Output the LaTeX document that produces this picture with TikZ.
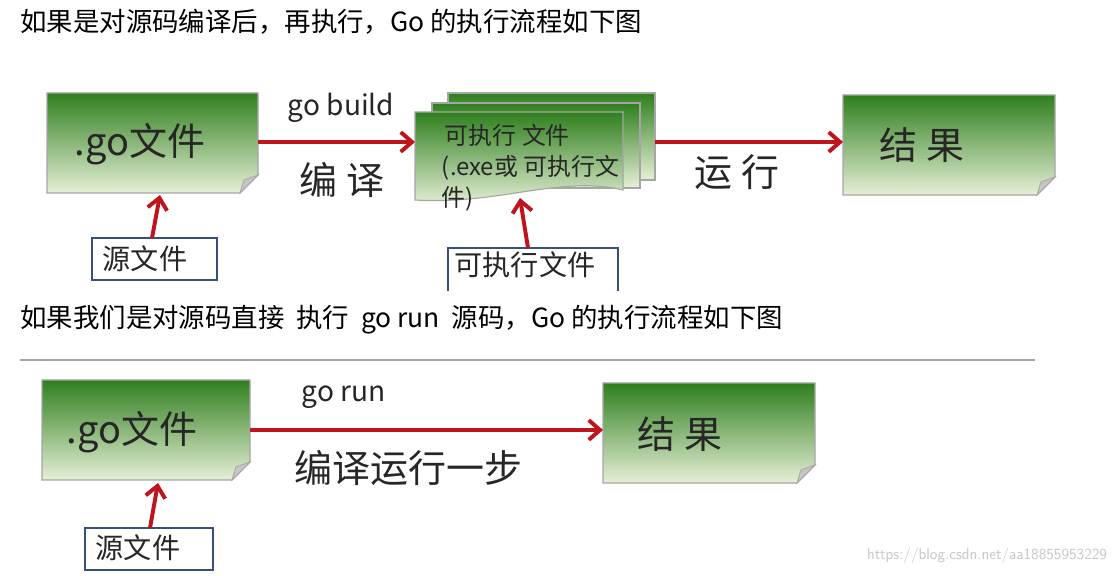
\documentclass[tikz,border=0pt]{standalone}
\usepackage{fontspec}
\setmainfont{Liberation Serif}
\newfontfamily\cjk{Noto Sans CJK SC}
\usetikzlibrary{arrows.meta}
\definecolor{gdark}{HTML}{2F7F1E}
\definecolor{glight}{HTML}{E6EFD6}
\definecolor{ared}{HTML}{C0141C}
\definecolor{bblue}{HTML}{3A4F7A}
\tikzset{
  gbox/.style={top color=gdark,bottom color=glight,draw=gray!70,line width=0.8pt},
  fold/.style={fill=gray!45,draw=gray!70,line width=0.6pt},
  rarrow/.style={draw=ared,line width=2.8pt,-{Straight Barb[length=8pt,width=14pt]}},
  lbox/.style={draw=bblue,line width=1pt,fill=white},
  big/.style={font=\cjk\fontsize{27}{27}\selectfont,text=black!85},
  mid/.style={font=\cjk\fontsize{20}{20}\selectfont,text=black!85},
  small/.style={font=\cjk\fontsize{17}{17}\selectfont,text=black!85},
  para/.style={font=\cjk\fontsize{18.8}{19}\selectfont,anchor=west,inner sep=0pt},
}
\begin{document}
\begin{tikzpicture}[x=0.025cm,y=-0.025cm]
\useasboundingbox[fill=white] (0,0) rectangle (1120,576);
\node[para] (t1) at (20,22) {如果是对源码编译后，再执行，Go 的执行流程如下图};
\node[para] (t2) at (20,320) {如果我们是对源码直接\ \ 执行\ \ go run\ \ 源码，Go 的执行流程如下图};
\draw[gray!70,line width=1pt] (20,360) -- (1035,360);
% ---- top diagram
\path[gbox] (47,93) -- (258,93) -- (258,175) -- (240,193) -- (47,193) -- cycle;
\path[fold] (258,175) -- (244,180) -- (240,193) -- cycle;
\node[big,anchor=center] (go1) at (140,144) {.go文件};
\coordinate (go1e) at (258,142);
\coordinate (go1s) at (160,195);
\path[gbox] (448,93) -- (655,93) -- (655,180) -- (448,180) -- cycle;
\path[gbox] (432,103) -- (640,103) -- (640,188) -- (432,188) -- cycle;
\path[gbox] (415,112) -- (623,112) -- (623,190) .. controls (560,175) and (500,205) .. (415,200) -- cycle;
\node[small,anchor=west] (exe1) at (440,135) {可执行 文件};
\node[small,anchor=west] (exe2) at (437,168) {(.exe或 可执行文};
\node[small,anchor=west] (exe3) at (437,199) {件)};
\coordinate (stw) at (415,142);
\coordinate (ste) at (655,142);
\coordinate (sts) at (520,198);
\path[gbox] (843,95) -- (1055,95) -- (1055,177) -- (1037,195) -- (843,195) -- cycle;
\path[fold] (1055,177) -- (1041,182) -- (1037,195) -- cycle;
\node[big,anchor=center] (res1) at (922,145) {结\ 果};
\coordinate (res1w) at (843,142);
\draw[rarrow] (go1e) -- (stw);
\draw[rarrow] (ste) -- (res1w);
\node[mid,anchor=west] (gb) at (283,108) {go build};
\node[big,anchor=west] (by) at (295,180) {编\ 译};
\node[big,anchor=west] (yx) at (690,172) {运\ 行};
\path[lbox] (92,238) rectangle (217,280);
\node[mid] (src1) at (145,259) {源文件};
\coordinate (src1n) at (152,238);
\draw[rarrow] (src1n) -- (go1s);
\draw[bblue,line width=1pt] (448,291) -- (448,248) -- (618,248) -- (618,291);
\node[mid] (exeb) at (525,265) {可执行文件};
\coordinate (exebn) at (528,248);
\draw[rarrow] (exebn) -- (sts);
% ---- bottom diagram
\path[gbox] (42,380) -- (250,380) -- (250,462) -- (232,480) -- (42,480) -- cycle;
\path[fold] (250,462) -- (236,467) -- (232,480) -- cycle;
\node[big] (go2) at (132,432) {.go文件};
\coordinate (go2e) at (250,430);
\coordinate (go2s) at (158,483);
\path[gbox] (603,383) -- (815,383) -- (815,465) -- (797,483) -- (603,483) -- cycle;
\path[fold] (815,465) -- (801,470) -- (797,483) -- cycle;
\node[big] (res2) at (680,434) {结\ 果};
\coordinate (res2w) at (603,430);
\draw[rarrow] (go2e) -- (res2w);
\node[mid,anchor=west] (gr) at (297,397) {go run};
\node[big,anchor=west] (yb) at (290,468) {编译运行一步};
\path[lbox] (85,528) rectangle (213,570);
\node[mid] (src2) at (138,548) {源文件};
\coordinate (src2n) at (150,528);
\draw[rarrow] (src2n) -- (go2s);
\node[font=\sffamily\fontsize{11}{11}\selectfont,text=gray!45,anchor=east] (wm) at (1112,556) {https://blog.csdn.net/aa18855953229};
\end{tikzpicture}
\end{document}
